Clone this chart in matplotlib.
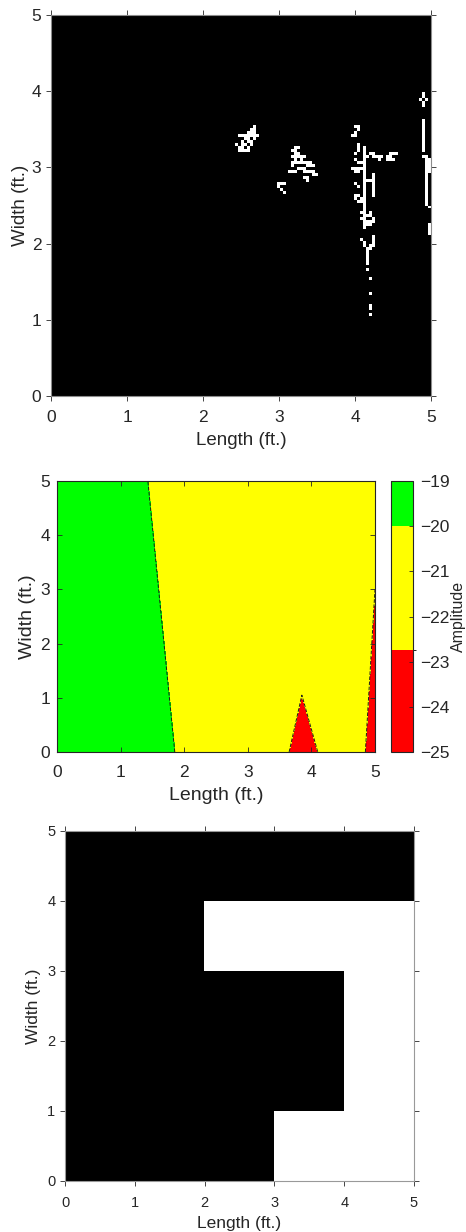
import numpy as np
import matplotlib
matplotlib.use("Agg")
import matplotlib.pyplot as plt
from matplotlib.colors import ListedColormap, BoundaryNorm

plt.rcParams['font.family'] = ['Liberation Sans', 'DejaVu Sans']

# ---------------- Data ----------------
# Panel 1: white speckle strokes (ft) on black background
speckle_strokes = [
    # cluster near (2.55, 3.35)
    [(2.47, 3.40), (2.55, 3.42), (2.62, 3.45), (2.67, 3.52)],
    [(2.67, 3.52), (2.70, 3.42), (2.66, 3.36), (2.62, 3.30), (2.58, 3.24), (2.54, 3.21)],
    [(2.44, 3.29), (2.50, 3.27), (2.55, 3.30), (2.60, 3.36)],
    [(2.50, 3.35), (2.53, 3.32)],
    [(2.62, 3.40), (2.66, 3.40)],
    [(2.48, 3.24), (2.52, 3.22)],
    [(2.57, 3.36), (2.60, 3.40)],
    # cluster near (3.3, 3.05)
    [(3.17, 3.22), (3.22, 3.27), (3.26, 3.25)],
    [(3.20, 3.15), (3.25, 3.18), (3.30, 3.12), (3.34, 3.15)],
    [(3.24, 3.08), (3.30, 3.05), (3.36, 3.08), (3.40, 3.02)],
    [(3.28, 3.00), (3.34, 2.98), (3.38, 2.93), (3.45, 2.96), (3.48, 2.90)],
    [(3.14, 2.95), (3.22, 2.96)],
    [(3.35, 2.88), (3.37, 2.84)],
    [(3.22, 3.22), (3.24, 3.12)],
    [(3.18, 3.08), (3.20, 3.02)],
    [(3.42, 3.08), (3.44, 3.02)],
    [(2.98, 2.80), (3.05, 2.81)],
    [(3.00, 2.74), (3.03, 2.72)],
    [(3.05, 2.67)],
    # vertical cluster near x = 4.1
    [(4.14, 3.25), (4.14, 2.35)],
    [(4.00, 3.55), (4.04, 3.50), (4.00, 3.45)],
    [(3.96, 3.42), (4.02, 3.40)],
    [(4.03, 3.32), (4.05, 3.25), (4.02, 3.18)],
    [(4.02, 3.10), (4.08, 3.05), (4.12, 3.08)],
    [(3.97, 3.00), (4.02, 2.95), (4.08, 2.98)],
    [(4.00, 2.80), (4.05, 2.75)],
    [(4.03, 2.65), (4.00, 2.58), (4.05, 2.55), (4.08, 2.60)],
    [(4.14, 3.15), (4.22, 3.18), (4.30, 3.12), (4.36, 3.15)],
    [(4.42, 3.13), (4.48, 3.18), (4.55, 3.20)],
    [(4.45, 3.10), (4.50, 3.12)],
    [(4.22, 2.92), (4.22, 2.62)],
    [(4.14, 2.85), (4.22, 2.85)],
    [(4.14, 2.65), (4.10, 2.58)],
    [(4.10, 2.42), (4.15, 2.38), (4.10, 2.32), (4.16, 2.28), (4.12, 2.22)],
    [(4.20, 2.40), (4.23, 2.32), (4.20, 2.25)],
    [(4.25, 2.30)],
    [(4.08, 2.05), (4.14, 1.97), (4.16, 1.92), (4.17, 1.78), (4.16, 1.72)],
    [(4.24, 2.08), (4.22, 1.98), (4.16, 1.92)],
    [(4.12, 2.02), (4.11, 1.98)],
    [(4.17, 1.65)], [(4.20, 1.56)], [(4.20, 1.36)], [(4.18, 1.21)],
    [(4.21, 1.14)], [(4.21, 1.08)],
    # right edge cluster near x = 4.9
    [(4.87, 3.90), (4.90, 3.95), (4.93, 3.90), (4.91, 3.84), (4.90, 3.79)],
    [(4.89, 3.60), (4.89, 3.50)],
    [(4.89, 3.45), (4.89, 3.35)],
    [(4.90, 3.30), (4.90, 3.28)],
    [(4.91, 3.22)],
    [(4.90, 3.15), (4.95, 3.15), (4.96, 3.05), (4.95, 2.90)],
    [(4.98, 3.10), (4.98, 2.95)],
    [(4.95, 2.90), (4.95, 2.50), (4.99, 2.47)],
    [(4.97, 2.24), (4.97, 2.11)],
    [(4.99, 2.24), (4.99, 2.11)],
]
speckle_grid_n = 128

# Panel 2: amplitude field sampled on a coarse grid
amp_x = [0.0, 2.5, 3.85, 4.5, 5.0]
amp_y = [0.0, 5.0]
amp_z = [
    [-19.2, -20.28, -23.18, -22.06, -23.05],   # y = 0
    [-19.2, -20.60, -21.13, -21.50, -22.55],   # y = 5
]
amp_levels = [-25, -22.75, -20, -19]
amp_colors = ['#ff0000', '#ffff00', '#00ff00']
amp_ticks = [-25, -24, -23, -22, -21, -20, -19]

# Panel 3: 5x5 binary map (1 = black), rows from y=0 upward
binary_map = [
    [1, 1, 1, 0, 0],
    [1, 1, 1, 1, 0],
    [1, 1, 1, 1, 0],
    [1, 1, 0, 0, 0],
    [1, 1, 1, 1, 1],
]

ticks = [0, 1, 2, 3, 4, 5]
txt = '#262626'

# ---------------- Figure ----------------
W, H = 466, 1232
fig = plt.figure(figsize=(W / 100, H / 100), dpi=100)


def ax_rect(x0, y0, x1, y1):
    return [x0 / W, 1 - y1 / H, (x1 - x0) / W, (y1 - y0) / H]


def style(ax, tfs, lfs, direction, spine_color, xpad, ypad, lpad_x, lpad_y):
    ax.set_xticks(ticks)
    ax.set_yticks(ticks)
    ax.tick_params(direction=direction, length=3.5, width=0.6, labelsize=tfs,
                   colors=txt, top=True, right=True, labeltop=False, labelright=False)
    ax.tick_params(axis='x', pad=xpad)
    ax.tick_params(axis='y', pad=ypad)
    for s in ax.spines.values():
        s.set_color(spine_color)
        s.set_linewidth(0.8)
    ax.set_xlabel('Length (ft.)', fontsize=lfs, color=txt, labelpad=lpad_x)
    ax.set_ylabel('Width (ft.)', fontsize=lfs, color=txt, labelpad=lpad_y)


# Panel 1
ax1 = fig.add_axes(ax_rect(51, 15, 431, 396))
grid = np.zeros((speckle_grid_n, speckle_grid_n))
cell = 5.0 / speckle_grid_n
for stroke in speckle_strokes:
    pts = np.array(stroke, dtype=float)
    if len(pts) == 1:
        samples = pts
    else:
        samples = []
        for (xa, ya), (xb, yb) in zip(pts[:-1], pts[1:]):
            n = max(2, int(np.hypot(xb - xa, yb - ya) / (cell * 0.5)) + 1)
            t = np.linspace(0, 1, n)
            samples.append(np.column_stack([xa + (xb - xa) * t, ya + (yb - ya) * t]))
        samples = np.vstack(samples)
    ci = np.clip((samples[:, 0] / cell).astype(int), 0, speckle_grid_n - 1)
    ri = np.clip((samples[:, 1] / cell).astype(int), 0, speckle_grid_n - 1)
    grid[ri, ci] = 1
ax1.imshow(grid, cmap='gray', vmin=0, vmax=1, origin='lower', extent=[0, 5, 0, 5],
           interpolation='nearest', aspect='auto')
ax1.set_xlim(0, 5)
ax1.set_ylim(0, 5)
style(ax1, 12.5, 13.5, 'out', '#8c8c8c', xpad=6.5, ypad=3.5, lpad_x=5, lpad_y=2)

# Panel 2
ax2 = fig.add_axes(ax_rect(57, 481, 375, 752))
X, Y = np.meshgrid(amp_x, amp_y)
Z = np.array(amp_z)
cmap = ListedColormap(amp_colors)
norm = BoundaryNorm(amp_levels, cmap.N)
cf = ax2.contourf(X, Y, Z, levels=amp_levels, cmap=cmap, norm=norm)
ax2.contour(X, Y, Z, levels=amp_levels[1:3], colors='#1a1a1a', linewidths=0.7)
ax2.set_xlim(0, 5)
ax2.set_ylim(0, 5)
style(ax2, 12.5, 14, 'in', '#262626', xpad=9.5, ypad=5, lpad_x=5, lpad_y=3)

cax = fig.add_axes(ax_rect(391, 481, 413, 752))
cb = fig.colorbar(cf, cax=cax, spacing='proportional', ticks=amp_ticks)
cb.ax.tick_params(direction='in', length=3, width=0.6, labelsize=12.5, colors=txt, pad=5)
cb.outline.set_edgecolor('#262626')
cb.outline.set_linewidth(0.8)
cb.set_label('Amplitude', fontsize=11.5, color=txt, labelpad=1)

# Panel 3
ax3 = fig.add_axes(ax_rect(65, 831, 414, 1181))
ax3.imshow(1 - np.array(binary_map), cmap='gray', vmin=0, vmax=1, origin='lower',
           extent=[0, 5, 0, 5], interpolation='nearest', aspect='auto')
ax3.set_xlim(0, 5)
ax3.set_ylim(0, 5)
style(ax3, 10.5, 12.5, 'out', '#999999', xpad=7.5, ypad=3.5, lpad_x=4, lpad_y=4)

fig.savefig('out.png', dpi=100)
